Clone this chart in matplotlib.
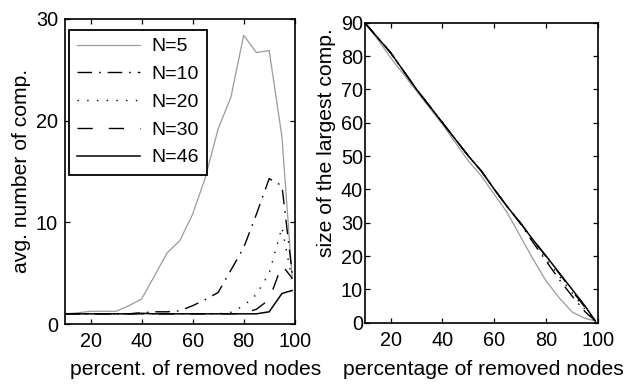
import matplotlib
matplotlib.use("Agg")
import matplotlib.pyplot as plt

plt.rcParams['font.family'] = ['Liberation Sans', 'DejaVu Sans']

x = [10, 15, 20, 25, 30, 35, 40, 45, 50, 55, 60, 65, 70, 75, 80, 85, 90, 95, 99]
labels = ["N=5", "N=10", "N=20", "N=30", "N=46"]

# left: average number of components
comp_n5 = [1.0, 1.1, 1.25, 1.25, 1.25, 1.8, 2.45, 4.7, 7.0, 8.2, 10.8, 14.4, 19.2, 22.3, 28.4, 26.7, 26.9, 18.4, 4.6]
comp_n10 = [1.0, 1.0, 1.0, 1.0, 1.0, 1.0, 1.1, 1.2, 1.2, 1.3, 1.8, 2.4, 3.1, 5.3, 7.5, 10.8, 14.3, 13.6, 5.0]
comp_n20 = [1.0, 1.0, 1.0, 1.0, 1.0, 1.0, 1.0, 1.0, 1.0, 1.0, 1.0, 1.0, 1.0, 1.15, 1.8, 2.9, 5.0, 9.5, 4.3]
comp_n30 = [1.0, 1.0, 1.0, 1.0, 1.0, 1.0, 1.0, 1.0, 1.0, 1.0, 1.0, 1.0, 1.0, 1.0, 1.05, 1.45, 2.4, 5.8, 4.5]
comp_n46 = [1.0, 1.0, 1.0, 1.0, 1.0, 1.0, 1.05, 1.0, 1.0, 1.0, 1.0, 1.0, 1.0, 1.0, 1.0, 1.0, 1.2, 3.0, 3.3]

# right: size of the largest component
lc_n5 = [90, 85, 79.5, 74.5, 69.5, 64.5, 59.5, 54, 48.5, 44, 38.5, 33, 26, 19, 12.5, 7.5, 3.2, 1.3, 0.5]
lc_n10 = [90, 85.5, 81, 75.5, 70, 65, 60, 55, 50, 45.5, 40, 34.8, 29.8, 24, 18.5, 13, 8, 3.3, 0.5]
lc_n20 = [90, 85.5, 81, 75.5, 70, 65, 60, 55, 50, 45.5, 40, 34.8, 30, 24.5, 19.3, 14, 9, 4, 0.5]
lc_n30 = [90, 85.5, 81, 75.5, 70, 65, 60, 55, 50, 45.5, 40, 34.8, 30, 24.8, 19.8, 14.8, 9.6, 4.6, 0.5]
lc_n46 = [90, 85.5, 81, 75.5, 70, 65, 60, 55, 50, 45.5, 40, 34.8, 30, 24.8, 20, 15, 10, 5, 0.5]

styles = [
    dict(color='#9a9a9a', lw=0.9, linestyle='-'),
    dict(color='black', lw=1.0, linestyle=(0, (10.5, 5, 1.2, 5))),
    dict(color='black', lw=1.0, linestyle=(0, (1.0, 6.0))),
    dict(color='black', lw=1.0, linestyle=(0, (11, 11.5))),
    dict(color='black', lw=1.1, linestyle='-'),
]

W, H = 626, 385
fig = plt.figure(figsize=(W / 100, H / 100), dpi=100)

def px_axes(l, t, r, b):
    return fig.add_axes([l / W, (H - b) / H, (r - l) / W, (b - t) / H])

ax1 = px_axes(65, 19, 294.7, 324)
ax2 = px_axes(364.7, 22.7, 598, 322.7)

for ax, series in ((ax1, [comp_n5, comp_n10, comp_n20, comp_n30, comp_n46]),
                   (ax2, [lc_n5, lc_n10, lc_n20, lc_n30, lc_n46])):
    for ys, st, lab in zip(series, styles, labels):
        ax.plot(x, ys, label=lab, **st)
    ax.set_xlim(10, 100)
    ax.set_xticks([20, 40, 60, 80, 100])
    for s in ax.spines.values():
        s.set_linewidth(1.2)
    ax.tick_params(direction='in', top=True, right=True, length=3.5, width=0.9,
                   labelsize=14.3)
    ax.tick_params(axis='x', pad=6.0)

ax1.set_ylim(0, 30)
ax1.set_yticks([0, 10, 20, 30])
ax1.tick_params(axis='y', pad=5.0)
ax2.set_ylim(0, 90)
ax2.set_yticks(list(range(0, 91, 10)))
ax2.tick_params(axis='y', pad=1.2)

leg = ax1.legend(loc='upper left', bbox_to_anchor=((68.7 - 65) / 229.7, (324 - 29.7) / 305),
                 borderaxespad=0, fontsize=14, handlelength=3.25, handletextpad=0.57,
                 labelspacing=0.52, borderpad=0.42, fancybox=False, framealpha=1,
                 edgecolor='black')
leg.get_frame().set_linewidth(1.3)

fig.text(196 / W, (H - 375) / H, "percent. of removed nodes", ha='center', va='baseline', fontsize=15.2)
fig.text(483 / W, (H - 375) / H, "percentage of removed nodes", ha='center', va='baseline', fontsize=15.2)
fig.text(22 / W, (H - 171) / H, "avg. number of comp.", rotation=90, ha='center', va='center', fontsize=15.2)
fig.text(326.5 / W, (H - 143) / H, "size of the largest comp.", rotation=90, ha='center', va='center', fontsize=15.2)

fig.savefig("out.png", dpi=100)
